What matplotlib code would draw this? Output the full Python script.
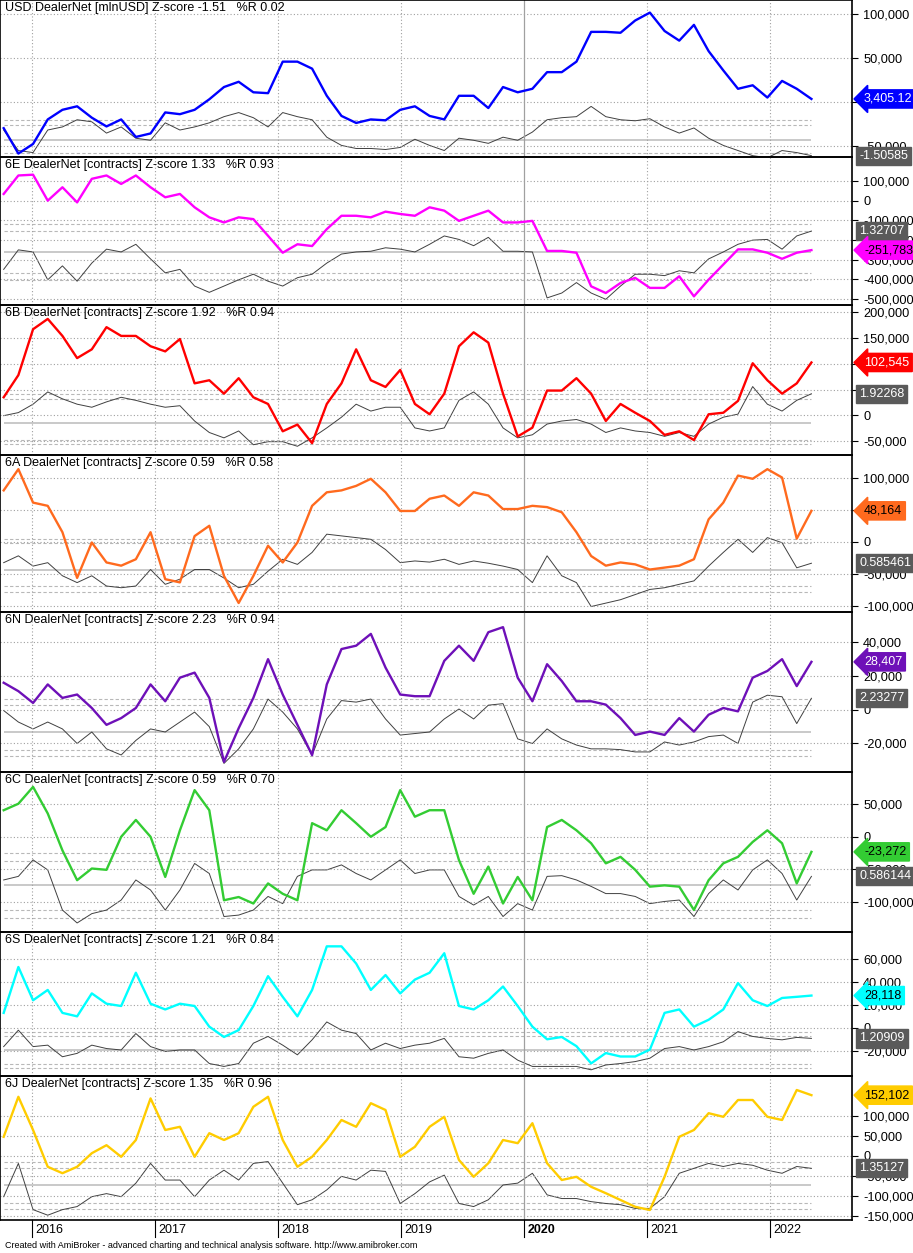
import numpy as np
import matplotlib
matplotlib.use("Agg")
import matplotlib.pyplot as plt
from matplotlib.transforms import blended_transform_factory

plt.rcParams["font.family"] = ["Liberation Sans", "DejaVu Sans"]
plt.rcParams["font.size"] = 9

# sample dates (decimal years), ~6 weeks apart
t = np.linspace(2015.77, 2022.34, 56)
years = [2016, 2017, 2018, 2019, 2020, 2021, 2022]

titles = ["USD DealerNet [mlnUSD] Z-score -1.51   %R 0.02",
          "6E DealerNet [contracts] Z-score 1.33   %R 0.93",
          "6B DealerNet [contracts] Z-score 1.92   %R 0.94",
          "6A DealerNet [contracts] Z-score 0.59   %R 0.58",
          "6N DealerNet [contracts] Z-score 2.23   %R 0.94",
          "6C DealerNet [contracts] Z-score 0.59   %R 0.70",
          "6S DealerNet [contracts] Z-score 1.21   %R 0.84",
          "6J DealerNet [contracts] Z-score 1.35   %R 0.96"]
last_labels = ["3,405.12", "-251,783", "102,545", "48,164", "28,407", "-23,272", "28,118", "152,102"]
z_labels = ["-1.50585", "1.32707", "1.92268", "0.585461", "2.23277", "0.586144", "1.20909", "1.35127"]

usd = [-30, -59, -48, -20, -9, -5, -18, -28, -20, -40, -36, -12, -14, -9, 3, 17, 23, 11, 10, 46,
       46, 38, 7, -16, -24, -20, -21, -9, -5, -16, -20, 7, 7, -7, 17, 11, 15, 34, 34, 46,
       80, 80, 79, 93, 102, 81, 70, 88, 58, 36, 15, 19, 5, 24, 15, 3.4]
usd_z = [1.0, -1.0, -1.2, 1.0, 1.3, 2.0, 1.8, 0.7, 1.3, 0.2, 0, 1.7, 1.0, 1.3, 1.7, 2.3, 2.7, 2.2, 1.3, 2.7,
         2.3, 2.0, 0.3, -0.5, -0.8, -0.8, -0.9, -0.7, 0.1, -0.5, -1.0, 0.2, 0, -0.3, 0.3, 0, 0.8, 2.0, 2.2, 2.3,
         3.3, 2.3, 2.0, 1.9, 2.1, 1.3, 0.7, 1.2, 0.2, -0.5, -1.0, -1.5, -1.7, -1.0, -1.2, -1.5]
eur = [34, 128, 132, 0, 68, -9, 111, 128, 85, 128, 68, 17, 34, -34, -85, -111, -85, -94, -179, -265,
       -222, -231, -145, -77, -77, -85, -56, -68, -77, -34, -51, -103, -77, -51, -111, -111, -103, -256, -256, -265,
       -436, -470, -419, -393, -444, -444, -385, -487, -402, -325, -248, -248, -265, -296, -265, -251.8]
eur_z = [-1.25, 0.15, 0, -2.0, -1.0, -2.1, -0.8, 0.2, 0, 0.55, -0.5, -1.5, -1.25, -2.45, -2.9, -2.45, -2.0, -1.6, -2.1, -2.45,
         -1.85, -1.6, -0.8, -0.15, 0, 0.05, 0.3, 0.2, 0, 0.55, 1.15, 0.9, 0.45, 1.05, 0.05, 0.05, 0, -3.3, -2.95, -2.2,
         -2.95, -3.4, -2.45, -1.6, -1.6, -1.7, -1.35, -1.5, -0.5, 0, 0.55, 0.85, 0.9, 0.2, 1.15, 1.5]
gbp = [35, 78, 167, 187, 154, 111, 128, 171, 154, 154, 134, 124, 148, 62, 68, 42, 72, 35, 22, -31,
       -18, -54, 22, 62, 128, 68, 55, 88, 22, 2, 42, 134, 161, 141, 42, -41, -24, 48, 48, 72,
       42, -11, 22, 5, -11, -38, -31, -48, 2, 5, 28, 101, 68, 42, 62, 102.5]
gbp_z = [0.5, 0.7, 1.25, 2.05, 1.6, 1.25, 1.05, 1.4, 1.7, 1.5, 1.25, 1.05, 1.15, 0.15, -0.6, -0.95, -0.5, -1.4, -1.2, -1.2,
         -1.5, -0.95, -0.3, 0.4, 1.25, 0.8, 1.05, 1.05, -0.3, -0.5, -0.3, 1.5, 2.05, 1.25, -0.3, -0.95, -0.75, -0.05, 0.15, 0.25,
         -0.05, -0.6, -0.3, -0.5, -0.6, -0.85, -0.6, -0.85, -0.05, 0.4, 0.6, 2.4, 1.25, 0.8, 1.5, 1.93]
aud = [80, 113, 61, 56, 15, -56, -1, -32, -37, -27, 15, -58, -63, 9, 25, -53, -95, -53, -6, -32,
       -1, 56, 77, 80, 87, 98, 77, 48, 48, 67, 72, 56, 77, 72, 51, 51, 56, 54, 46, 15,
       -22, -37, -32, -35, -43, -40, -37, -27, 35, 61, 103, 98, 113, 100, 5, 48.2]
aud_z = [0.65, 1.25, 0.35, 0.65, -0.5, -1.1, -0.5, -1.4, -1.55, -1.4, 0.05, -1.25, -0.8, 0.05, 0.05, -0.7, -1.55, -1.25, -0.1, 0.95,
         0.5, 1.55, 3.15, 3.0, 2.85, 2.7, 1.8, 0.65, 0.8, 0.7, 0.95, 0.5, 0.8, 0.6, 0.35, 0.05, -1.1, 1.25, -0.5, -1.1,
         -3.2, -2.9, -2.6, -2.15, -1.7, -1.55, -1.25, -0.95, 0.35, 1.55, 2.7, 1.55, 2.85, 2.4, 0.2, 0.6]
nzd = [16, 11, 4, 15, 7, 9, 1, -9, -5, 1, 15, 5, 19, 22, 7, -31, -11, 7, 30, 9,
       -9, -27, 15, 36, 38, 45, 25, 9, 8, 8, 29, 38, 29, 46, 49, 19, 5, 27, 17, 5,
       5, 3, -5, -15, -13, -15, -5, -13, -3, 1, -1, 19, 23, 30, 14, 28.4]
nzd_z = [1.4, 0.65, 0.2, 0.65, 0.2, -0.75, 0, -1.1, -1.5, -0.55, 0.2, 0, 0.65, 1.3, 0.35, -2.05, -1.1, 0.2, 2.15, 1.3,
         0.2, -1.5, 0.85, 2.05, 1.95, 2.15, 0.85, -0.2, -0.1, 0, 0.85, 1.5, 0.85, 1.75, 1.85, -0.45, -0.75, 0.2, -0.45, -0.85,
         -1.1, -1.1, -1.15, -1.3, -1.3, -0.65, -0.85, -0.65, -0.3, -0.2, -0.75, 1.95, 2.4, 2.3, 0.55, 2.2]
cad = [41, 51, 77, 36, -21, -67, -49, -51, 0, 26, 0, -62, 10, 72, 41, -98, -93, -103, -72, -88,
       -98, 21, 10, 41, 21, 0, 15, 72, 31, 41, 41, -36, -88, -46, -103, -62, -98, 15, 26, 10,
       -10, -41, -31, -51, -77, -75, -77, -113, -67, -41, -31, -8, 10, -10, -72, -23.3]
cad_z = [0.35, 0.6, 1.75, 1.05, -1.75, -2.65, -2.0, -1.75, -1.05, 0.35, -0.35, -1.75, -0.35, 1.5, 0.8, -2.2, -2.1, -1.75, -0.8, -1.3,
         0.6, 1.05, 1.05, 1.4, 0.8, 0.35, 1.05, 1.75, 0.8, 1.05, 1.05, -0.8, -1.4, -0.8, -2.2, -1.3, -1.75, 0.6, 0.65, 0.35,
         -0.1, -0.6, -0.6, -0.8, -1.3, -1.15, -1.05, -2.2, -0.6, 0.35, -0.35, 1.05, 1.75, 0.8, -1.05, 0.6]
chf = [13, 53, 24, 33, 13, 10, 30, 21, 19, 48, 21, 16, 21, 19, 1, -8, -2, 19, 45, 27,
       10, 33, 71, 71, 56, 33, 46, 30, 42, 48, 65, 19, 16, 24, 36, 19, 1, -10, -8, -16,
       -31, -22, -25, -25, -19, 13, 16, 1, 7, 16, 39, 24, 19, 26, 27, 28.1]
chf_z = [0.35, 2.05, 0.35, 0.5, -0.7, -0.35, 0.5, 0.15, 0, 1.7, 0.35, -0.15, 0, 0, -1.4, -1.7, -1.4, 0.7, 1.4, 0.5,
         -0.5, 1.05, 2.9, 2.05, 1.7, 0, 0.7, 0.15, 0.5, 0.7, 1.2, -0.7, -0.85, -0.35, 0, -1.05, -1.7, -1.7, -1.7, -1.7,
         -2.05, -1.55, -1.4, -1.2, -0.85, 0.15, 0.35, 0, 0.35, 0.85, 1.9, 1.4, 1.2, 1.05, 1.3, 1.2]
jpy = [48, 148, 65, -27, -43, -27, 7, 27, -2, 40, 144, 65, 73, -2, 57, 40, 57, 123, 148, 40,
       -27, -2, 40, 90, 73, 132, 115, -2, 23, 73, 98, -10, -52, -18, 40, 32, 82, -18, -60, -52,
       -77, -93, -110, -127, -135, -52, 48, 65, 107, 98, 140, 140, 98, 90, 165, 152.1]
jpy_z = [-0.95, 1.75, -2.0, -2.45, -2.0, -1.75, -0.95, -0.7, -0.95, 0.15, 1.75, 0.4, 0.4, -0.95, 0.4, 1.2, 0.4, 1.75, 1.9, 0.15,
         -1.6, -1.2, -0.4, 0.7, 0.4, 1.2, 1.1, -1.5, -0.7, 0.25, 0.8, -1.5, -1.75, -1.2, 0, 0.15, 0.95, -0.8, -1.1, -1.1,
         -1.35, -1.5, -1.6, -1.9, -1.9, -0.95, 0.95, 1.35, 1.75, 1.5, 1.75, 1.6, 1.2, 0.95, 1.5, 1.35]

series = [usd, eur, gbp, aud, nzd, cad, chf, jpy]
zscores = [usd_z, eur_z, gbp_z, aud_z, nzd_z, cad_z, chf_z, jpy_z]
colors = ["#0000ff", "#ff00ff", "#ff0000", "#ff6a1e", "#6e10b8", "#33cc33", "#00ffff", "#ffcc00"]
label_text = ["white", "black", "white", "black", "white", "black", "black", "black"]
yticks = [[-50, 0, 50, 100], [-500, -400, -300, -200, -100, 0, 100],
          [-50, 0, 50, 100, 150, 200], [-100, -50, 0, 50, 100],
          [-20, 0, 20, 40], [-100, -50, 0, 50], [-20, 0, 20, 40, 60],
          [-150, -100, -50, 0, 50, 100]]
# (ymin, ymax) in thousands, gray-axis (zmin, zmax) and dashed bands
ylims = [(-62.9, 116.4), (-531, 222), (-77, 214), (-109, 135), (-37, 58), (-147, 100), (-42, 83.5), (-160, 200)]
zlims = [(-1.63, 13.67), (-3.81, 6.82), (-2.07, 7.73), (-3.68, 10.1), (-2.61, 7.83), (-3.28, 7.88), (-2.69, 12.2), (-2.84, 8.84)]
bands = [[2.0, 1.53, -1.27, -1.6], [2, 1.5, -1.5, -2], [1.93, 1.6, -1.07, -1.35], [2.76, 2.35, -1.4, -1.94],
         [2.17, 1.78, -1.2, -1.57], [2.25, 1.67, -1.75, -2.3], [1.9, 1.45, -1.45, -1.83], [1.9, 1.35, -1.5, -1.97]]
edges = [0, 157, 305, 455, 612, 772, 932, 1076, 1220]

W, H = 913, 1253
fig = plt.figure(figsize=(W / 100, H / 100), dpi=100)
xlo, xhi = 2015.74, 2022.67
fy = lambda p: fig.transFigure.inverted().transform((0, p))[1]

for i in range(8):
    top, bot = edges[i], edges[i + 1]
    ax = fig.add_axes([0, 1 - bot / H, 852 / W, (bot - top) / H])
    gz = ax.twinx()
    ax.set_xlim(xlo, xhi)
    ax.set_ylim(*ylims[i])
    for s in ax.spines.values():
        s.set_linewidth(1.2)
    ax.yaxis.tick_right()
    ax.set_yticks(yticks[i])
    ax.set_yticklabels([f"{v * 1000:,.0f}" for v in yticks[i]])
    ax.tick_params(axis="y", length=4, pad=4, labelsize=9.2, right=True, labelright=True, left=False, labelleft=False)
    ax.set_xticks([])
    for y in yticks[i]:
        ax.axhline(y, color="#a0a0a0", ls=(0, (1, 2)), lw=0.8, zorder=0)
    for yr in years:
        if yr == 2020:
            ax.axvline(yr, color="#a0a0a0", lw=0.9, zorder=0)
        else:
            ax.axvline(yr, color="#a0a0a0", ls=(0, (1, 2)), lw=0.8, zorder=0)

    gz.set_ylim(*zlims[i])
    gz.set_xlim(xlo, xhi)
    gz.axis("off")
    gz.hlines(0, t[0], t[-1], color="#c0c0c0", lw=1.2, zorder=1)
    gz.hlines(bands[i], t[0], t[-1], color="#b8b8b8", ls=(0, (3, 2)), lw=0.8, zorder=1)
    gz.plot(t, zscores[i], color="#404040", lw=0.7, zorder=2)

    ax.set_zorder(gz.get_zorder() + 1)
    ax.patch.set_visible(False)
    ax.plot(t, series[i], color=colors[i], lw=1.7, zorder=3)
    ax.text(0.006, 0.985, titles[i], transform=ax.transAxes, va="top", ha="left", fontsize=9)

    # right-side last-value boxes
    yv = ax.transData.transform((t[-1], series[i][-1]))[1]
    yz = gz.transData.transform((t[-1], zscores[i][-1]))[1]
    fig.text(859 / W, fy(yz), z_labels[i], color="white", fontsize=9, va="center", ha="left",
             bbox=dict(boxstyle="square,pad=0.25", fc="#5a5a5a", ec="#5a5a5a"), zorder=10)
    fig.text(864 / W, fy(yv), last_labels[i], color=label_text[i], fontsize=9, va="center", ha="left",
             bbox=dict(boxstyle="larrow,pad=0.25", fc=colors[i], ec=colors[i]), zorder=11)

    if i == 7:
        trans = blended_transform_factory(ax.transData, ax.transAxes)
        for yr in years:
            ax.text(yr + 0.03, -0.025, str(yr), transform=trans, va="top", ha="left", fontsize=9,
                    fontweight="bold" if yr == 2020 else "normal")
            ax.plot([yr, yr], [0, -0.12], transform=trans, color="black", lw=0.8, clip_on=False)

fig.text(5 / W, 1 - 1246 / H, "Created with AmiBroker - advanced charting and technical analysis software. http://www.amibroker.com",
         fontsize=6.5, va="center", ha="left")
fig.savefig("out.png", dpi=100)
